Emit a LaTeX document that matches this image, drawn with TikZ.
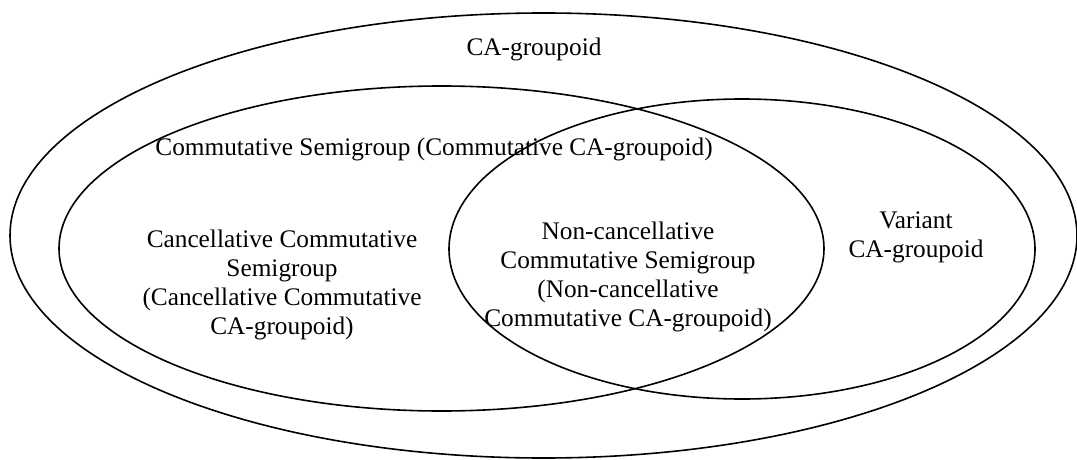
\documentclass[tikz,border=0pt]{standalone}
\usepackage{fontspec}
\setmainfont{Liberation Serif}
\begin{document}
\begin{tikzpicture}[x=1pt,y=-1pt,
  setline/.style={line width=1.6pt,black},
  lbl/.style={align=center,inner sep=0pt,font=\fontsize{25.3}{29}\selectfont}]
\useasboundingbox (0,0) rectangle (1077,460);
% sets
\draw[setline] (543.5,235.5) ellipse [x radius=533.5pt, y radius=222.5pt];
\draw[setline] (441.5,248.5) ellipse [x radius=382.5pt, y radius=162.5pt];
\draw[setline] (742,249) ellipse [x radius=293pt, y radius=150pt];
% labels
\node[lbl] (ca) at (534,49) {CA-groupoid};
\node[lbl] (cs) at (434,149) {Commutative Semigroup (Commutative CA-groupoid)};
\node[lbl] (ccs) at (282,285) {Cancellative Commutative\\Semigroup\\(Cancellative Commutative\\CA-groupoid)};
\node[lbl] (ncs) at (628,277) {Non-cancellative\\Commutative Semigroup\\(Non-cancellative\\Commutative CA-groupoid)};
\node[lbl] (var) at (916,237) {Variant\\CA-groupoid};
\end{tikzpicture}
\end{document}
